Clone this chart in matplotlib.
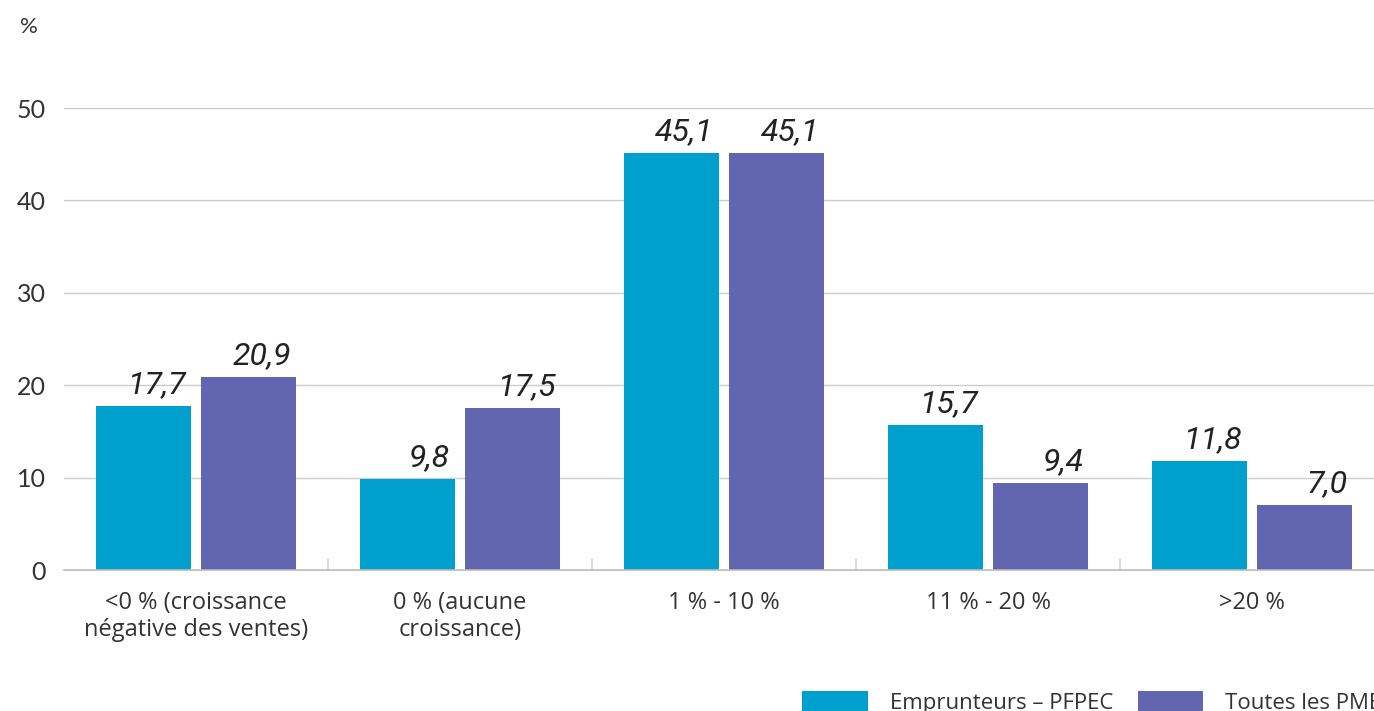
import matplotlib
matplotlib.use("Agg")
import matplotlib.pyplot as plt
from matplotlib.patches import Patch
import numpy as np

categories = ["<0 % (croissance\nnégative des ventes)", "0 % (aucune\ncroissance)",
              "1 % - 10 %", "11 % - 20 %", ">20 %"]
series_names = ["Emprunteurs – PFPEC", "Toutes les PME"]
emprunteurs = [17.7, 9.8, 45.1, 15.7, 11.8]
toutes_pme = [20.9, 17.5, 45.1, 9.4, 7.0]
yticks = [0, 10, 20, 30, 40, 50]

c1 = "#00A0CE"
c2 = "#6266B1"
grid_c = "#CCCCCC"
text_c = "#333333"

plt.rcParams['font.family'] = ['Open Sans', 'DejaVu Sans']

W, H = 1374, 711
fig = plt.figure(figsize=(W / 100, H / 100), dpi=100)
left, right, top, bottom = 64, 1384, 108, 570
ax = fig.add_axes([left / W, 1 - bottom / H, (right - left) / W, (bottom - top) / H])

x = np.arange(len(categories))
w = 0.36
off = 0.2
b1 = ax.bar(x - off, emprunteurs, w, color=c1, zorder=3)
b2 = ax.bar(x + off, toutes_pme, w, color=c2, zorder=3)

for bars, vals in ((b1, emprunteurs), (b2, toutes_pme)):
    for r, v in zip(bars, vals):
        ax.annotate(f"{v:.1f}".replace(".", ","),
                    xy=(r.get_x() + r.get_width(), v), xytext=(-5, 13),
                    textcoords="offset pixels", ha="right", va="baseline",
                    fontsize=23, style="italic", family="Roboto", color="#222222")

ax.set_xlim(-0.5, len(categories) - 0.5)
ax.set_ylim(0, 50)
ax.set_yticks(yticks)
ax.set_yticklabels([str(t) for t in yticks], fontsize=18, color=text_c, family="Lato")
ax.tick_params(axis="y", length=0, pad=13)
ax.set_xticks(x)
ax.set_xticklabels(categories, fontsize=17, color=text_c, linespacing=1.2)
ax.tick_params(axis="x", which="major", length=0, pad=15)
ax.set_xticks(np.arange(0.5, len(categories) - 0.5, 1), minor=True)
ax.tick_params(axis="x", which="minor", direction="in", length=9, width=1.2, color="#D5D5D5")

ax.grid(axis="y", color=grid_c, linewidth=1, zorder=0)
for s in ["top", "right", "left"]:
    ax.spines[s].set_visible(False)
ax.spines["bottom"].set_color("#BBBBBB")
ax.spines["bottom"].set_linewidth(1.2)
ax.spines["bottom"].set_zorder(4)

fig.text(20 / W, 1 - 27 / H, "%", fontsize=16, color=text_c, family="Lato", va="center")

handles = [Patch(facecolor=c1), Patch(facecolor=c2)]
fig.legend(handles, series_names, loc="upper left",
           bbox_to_anchor=(802 / W, 1 - 691 / H), ncol=2, frameon=False,
           fontsize=16, handlelength=2.95, handleheight=1.1, handletextpad=1.0,
           columnspacing=1.1, borderpad=0, borderaxespad=0, labelcolor=text_c)

fig.savefig("out.png", dpi=100)
